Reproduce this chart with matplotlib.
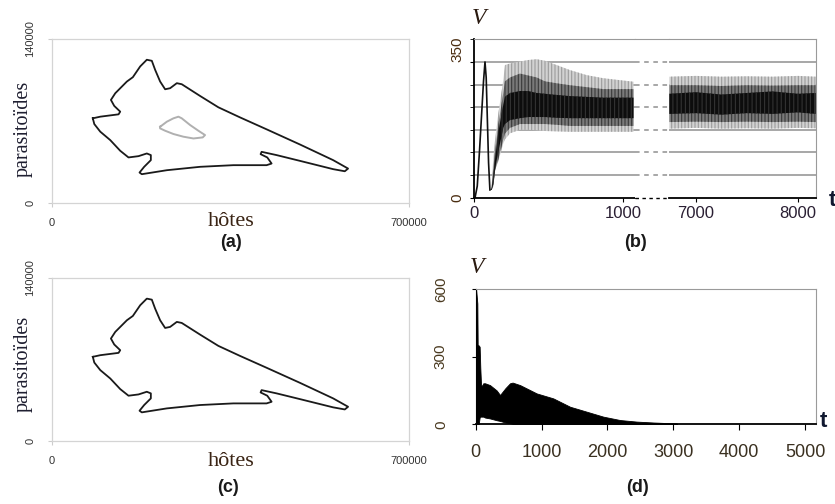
import numpy as np
import matplotlib
matplotlib.use("Agg")
from matplotlib import pyplot as plt

plt.rcParams['font.family'] = ['Liberation Sans', 'DejaVu Sans']
plt.rcParams['hatch.linewidth'] = 0.8

# phase portrait (hosts, parasitoids) - outer cycle, panels (a) and (c)
hotes = [80000, 94600, 130500, 133700, 122000, 115500, 124000, 146800, 158500, 172900,
         185900, 195700, 202200, 212000, 221800, 231600, 244700, 254400, 290300, 326200,
         368600, 420800, 486000, 551300, 580600, 574100, 551300, 486000, 440400, 411000,
         409000, 422100, 430600, 420800, 355600, 290300, 225100, 176100, 171600, 180700,
         193800, 193800, 185900, 169600, 150000, 133700, 114200, 94600, 82900, 80000]
parasitoides = [72300, 73700, 75700, 78000, 82900, 88000, 93700, 103700, 107400, 116600,
                122300, 121400, 113700, 103700, 97100, 98000, 102300, 101400, 91400, 81700,
                73100, 62900, 50000, 36600, 29400, 27100, 28900, 36000, 40900, 43700,
                41700, 38900, 33700, 32300, 32300, 30900, 28000, 24600, 26000, 30900,
                36600, 40900, 42300, 40000, 38900, 44600, 53700, 60900, 67400, 72300]
# inner (gray) cycle in panel (a)
hotes_in = [212000, 225100, 238100, 247900, 254400, 270700, 287000, 300100, 295500,
            277300, 257700, 238100, 221800, 212000, 212000]
parasit_in = [65100, 69400, 72300, 73700, 72300, 66600, 61700, 58000, 56000,
              55100, 56600, 58900, 61700, 63700, 65100]

# panel (b): V(t), initial peak then oscillation envelopes
b_peak_t = [5, 20, 35, 50, 62, 72, 80, 88, 96, 105]
b_peak_v = [0, 30, 120, 220, 300, 350, 310, 200, 90, 20]

b_t1 = [105, 117, 128, 140, 162, 195, 206, 240, 307, 363, 419, 475, 553, 643, 755, 867, 979, 1070]
b_hi1 = [20, 28, 106, 150, 218, 303, 342, 346, 351, 355, 357, 353, 342, 329, 316, 308, 303, 299]
b_lo1 = [20, 22, 35, 71, 95, 140, 150, 166, 175, 175, 174, 172, 171, 170, 170, 170, 170, 170]
b_mhi1 = [20, 25, 80, 120, 190, 270, 300, 310, 320, 315, 310, 300, 295, 290, 285, 280, 280, 280]
b_mlo1 = [20, 20, 30, 71, 100, 150, 165, 180, 190, 190, 190, 190, 188, 185, 185, 185, 185, 185]
b_khi1 = [20, 22, 60, 100, 170, 240, 260, 270, 275, 275, 270, 268, 265, 262, 260, 258, 258, 258]
b_klo1 = [20, 20, 35, 75, 120, 180, 190, 200, 205, 208, 208, 208, 206, 205, 205, 205, 205, 205]

b_t2 = [6740, 7000, 7250, 7500, 7750, 8000, 8174]
b_hi2 = [312, 314, 312, 313, 312, 314, 312]
b_lo2 = [178, 180, 178, 179, 178, 180, 179]
b_mhi2 = [290, 290, 288, 290, 289, 290, 290]
b_mlo2 = [195, 196, 195, 196, 195, 196, 195]
b_khi2 = [268, 272, 266, 270, 274, 268, 270]
b_klo2 = [216, 218, 214, 218, 216, 220, 216]

# panel (d): V(t) envelope
d_t = [0, 3, 6, 25, 30, 45, 60, 70, 80, 91, 115, 142, 217, 319, 369, 450, 521, 560,
       673, 926, 1178, 1432, 1685, 1937, 2191, 2444, 2700, 2950, 3050, 3060]
d_hi = [0, 600, 600, 536, 352, 350, 344, 250, 182, 167, 182, 182, 174, 150, 130, 160, 182, 185,
        174, 137, 115, 78, 56, 34, 19, 12, 8, 5, 4, 0]
d_lo = [0, 0, 0, 0, 0, 0, 30, 34, 34, 34, 34, 30, 26, 18, 15, 8, 5, 2,
        0, 0, 0, 0, 0, 0, 0, 0, 0, 0, 0, 0]

serif = 'Liberation Serif'
grid_c = '#8f8f8f'

fig = plt.figure(figsize=(8.35, 5.04), dpi=100)


def rotate_ylabels(ax):
    for lab in ax.get_yticklabels():
        lab.set_rotation(90)
        lab.set_verticalalignment('center')


def phase_panel(rect, inner):
    ax = fig.add_axes(rect)
    ax.plot(hotes, parasitoides, color='#1a1a1a', lw=1.3)
    if inner:
        ax.plot(hotes_in, parasit_in, color='#b0b0b0', lw=1.4)
    ax.set_xlim(0, 700000)
    ax.set_ylim(0, 140000)
    ax.set_xticks([0, 700000])
    ax.set_yticks([0, 140000])
    ax.set_xticklabels(['0', '700000'])
    ax.set_yticklabels(['0', '140000'])
    for s in ax.spines.values():
        s.set_color('#d4d4d4')
        s.set_linewidth(0.9)
    ax.tick_params(axis='both', colors='#cccccc', labelcolor='#333333', length=3,
                   labelsize=8)
    ax.tick_params(axis='y', pad=9)
    ax.tick_params(axis='x', pad=8)
    rotate_ylabels(ax)
    return ax


phase_panel([0.0623, 0.5972, 0.4275, 0.3254], True)
phase_panel([0.0623, 0.1250, 0.4275, 0.3234], False)

for y, yl in [(0.5615, 0.745), (0.0839, 0.279)]:
    fig.text(0.2766, y, 'hôtes', family=serif, fontsize=16, color='#3a2414',
             ha='center', va='center')
    fig.text(0.0275, yl, 'parasitoïdes', family=serif, fontsize=14.5, color='#1e1e30',
             ha='center', va='center', rotation=90)

# ---- panel (b): broken time axis
ymax_b = 350 * 7 / 6
grid_b = [350 * k / 6 for k in range(1, 7)]
b_rect_y, b_rect_h = 0.6077, 0.3143
axb1 = fig.add_axes([0.5680, b_rect_y, 0.1925, b_rect_h])
axg = fig.add_axes([0.7605, b_rect_y, 0.0411, b_rect_h])
axb2 = fig.add_axes([0.8016, b_rect_y, 0.1753, b_rect_h])

for ax in (axb1, axb2):
    ax.set_ylim(0, ymax_b)
    for g in grid_b:
        ax.axhline(g, color=grid_c, lw=1.1, zorder=0)
    ax.spines['top'].set_color('#9a9a9a')
    ax.spines['right'].set_color('#9a9a9a')
    ax.spines['bottom'].set_color('black')
    ax.spines['left'].set_color('black')
    ax.spines['bottom'].set_linewidth(1.3)
    ax.tick_params(axis='x', length=3, labelsize=12, labelcolor='#2a1f33', pad=3)


def band(ax, t, lo, hi, mlo, mhi, klo, khi):
    ax.fill_between(t, lo, hi, facecolor='#d2d2d2', hatch='|||||', edgecolor='#9c9c9c', lw=0)
    ax.fill_between(t, mlo, mhi, facecolor='#7a7a7a', hatch='|||||', edgecolor='#3a3a3a', lw=0)
    ax.fill_between(t, klo, khi, facecolor='#0d0d0d', hatch='||||', edgecolor='#333333', lw=0)


band(axb1, b_t1, b_lo1, b_hi1, b_mlo1, b_mhi1, b_klo1, b_khi1)
axb1.plot(b_peak_t, b_peak_v, color='#111111', lw=1.2)
axb1.set_xlim(0, 1080)
axb1.set_xticks([0, 1000])
axb1.spines['right'].set_visible(False)
axb1.spines['left'].set_linewidth(1.3)
axb1.set_yticks([0, 350])
axb1.set_yticks([g for g in grid_b if g != 350] + [ymax_b], minor=True)
axb1.tick_params(axis='y', which='both', length=3, color='black')
axb1.tick_params(axis='y', labelsize=11, labelcolor='#4a2c10', pad=4)
rotate_ylabels(axb1)
for lab in axb1.get_yticklabels():
    if lab.get_text() == '350':
        lab.set_verticalalignment('bottom')

band(axb2, b_t2, b_lo2, b_hi2, b_mlo2, b_mhi2, b_klo2, b_khi2)
axb2.set_xlim(6740, 8174)
axb2.set_xticks([7000, 8000])
axb2.spines['left'].set_visible(False)
axb2.set_yticks([])

# gap between the two pieces of the time axis
axg.set_ylim(0, ymax_b)
axg.set_xlim(0, 1)
for g in grid_b:
    axg.axhline(g, color=grid_c, lw=1.1, ls=(0, (3, 3)))
axg.axhline(0, color='black', lw=1.0, ls=(0, (2.5, 2.5)), clip_on=False)
for side in ('left', 'right', 'bottom'):
    axg.spines[side].set_visible(False)
axg.spines['top'].set_color('#9a9a9a')
axg.set_xticks([])
axg.set_yticks([])

fig.text(0.5737, 0.964, 'V', family=serif, style='italic', fontsize=17, color='#2a1a10',
         ha='center', va='center')
fig.text(0.992, 0.603, 't', fontsize=16, fontweight='bold', color='#101830',
         ha='left', va='center')

# ---- panel (d)
axd = fig.add_axes([0.5697, 0.1581, 0.4072, 0.2685])
axd.fill_between(d_t, d_lo, d_hi, color='black', lw=0.6, edgecolor='black')
axd.set_xlim(0, 5160)
axd.set_ylim(0, 600)
axd.set_xticks([0, 1000, 2000, 3000, 4000, 5000])
axd.set_yticks([0, 300, 600])
axd.spines['top'].set_color('#9a9a9a')
axd.spines['right'].set_color('#9a9a9a')
axd.spines['bottom'].set_linewidth(1.3)
axd.tick_params(axis='x', length=4, labelsize=13, labelcolor='#3a3020', pad=10)
axd.tick_params(axis='y', length=3, labelsize=11, labelcolor='#4a3a20', pad=17)
rotate_ylabels(axd)

fig.text(0.571, 0.470, 'V', family=serif, style='italic', fontsize=17, color='#2a1a10',
         ha='center', va='center')
fig.text(0.9856, 0.163, 't', fontsize=16, fontweight='bold', color='#101830',
         ha='center', va='center')

# panel letters
for x, y, s in [(0.2766, 0.5179, '(a)'), (0.7605, 0.5179, '(b)'),
                (0.2727, 0.0331, '(c)'), (0.764, 0.0323, '(d)')]:
    fig.text(x, y, s, fontsize=13, fontweight='bold', color='#1a1a1a',
             ha='center', va='center')

fig.savefig('out.png', dpi=100)
